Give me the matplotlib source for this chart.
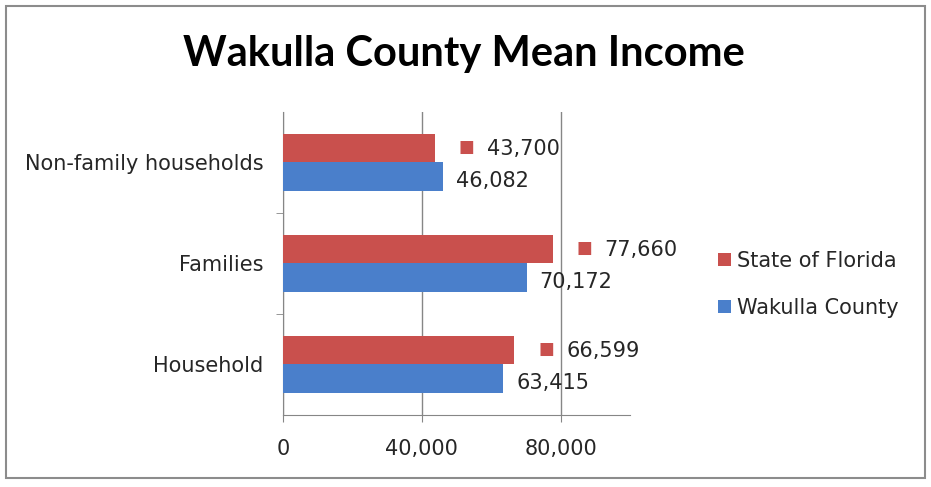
import matplotlib
matplotlib.use('Agg')
import matplotlib.pyplot as plt
from matplotlib.patches import Rectangle
import numpy as np

plt.rcParams['font.family'] = ['DejaVu Sans']

# data, bottom to top
categories = ['Household', 'Families', 'Non-family households']
florida = [66599, 77660, 43700]
wakulla = [63415, 70172, 46082]
red = '#C9504D'
blue = '#4A7FCB'
txt = '#262626'
fs = 15

fig = plt.figure(figsize=(9.31, 4.87), dpi=100)
ax = fig.add_axes([0.304, 0.148, 0.373, 0.622])

y = np.arange(len(categories))
h = 0.28
ax.barh(y + h / 2, florida, height=h, color=red, label='State of Florida', zorder=3)
ax.barh(y - h / 2, wakulla, height=h, color=blue, label='Wakulla County', zorder=3)

# data labels
for yi, v in zip(y, florida):
    ax.annotate('\u25A0', (v, yi + h / 2), xytext=(32, 1), textcoords='offset pixels',
                color=red, fontsize=12, va='center', ha='center')
    ax.annotate(f'{v:,}', (v, yi + h / 2), xytext=(52, -1), textcoords='offset pixels',
                color=txt, fontsize=fs, va='center', ha='left')
for yi, v in zip(y, wakulla):
    ax.annotate(f'{v:,}', (v, yi - h / 2), xytext=(13, -4), textcoords='offset pixels',
                color=txt, fontsize=fs, va='center', ha='left')

ax.set_xlim(0, 100000)
ax.set_ylim(-0.5, 2.5)
ax.set_xticks([0, 40000, 80000])
ax.set_xticklabels(['0', '40,000', '80,000'], fontsize=fs, color=txt)
ax.set_yticks(y)
ax.set_yticklabels(categories, fontsize=fs, color=txt)
ax.set_yticks([0.5, 1.5], minor=True)
ax.tick_params(axis='y', which='major', length=0, pad=14)
ax.tick_params(axis='y', which='minor', length=5, color='#868686')
ax.tick_params(axis='x', length=5, color='#868686', pad=12)
ax.grid(axis='x', color='#868686', linewidth=1, zorder=0)
for s in ['top', 'right']:
    ax.spines[s].set_visible(False)
for s in ['left', 'bottom']:
    ax.spines[s].set_color('#868686')

leg = ax.legend(loc='center left', bbox_to_anchor=(1.2, 0.43), frameon=False,
                fontsize=fs, handlelength=0.6, handleheight=0.6, handletextpad=0.3,
                labelspacing=1.3)
for t in leg.get_texts():
    t.set_color(txt)

fig.text(0.498, 0.889, 'Wakulla County Mean Income', ha='center', va='center',
         fontsize=30, fontweight='bold', family='Lato')

fig.patches.append(Rectangle((0.006, 0.018), 0.988, 0.97, transform=fig.transFigure,
                             fill=False, edgecolor='#8c8c8c', linewidth=1.5))

fig.savefig('out.png', dpi=100)
